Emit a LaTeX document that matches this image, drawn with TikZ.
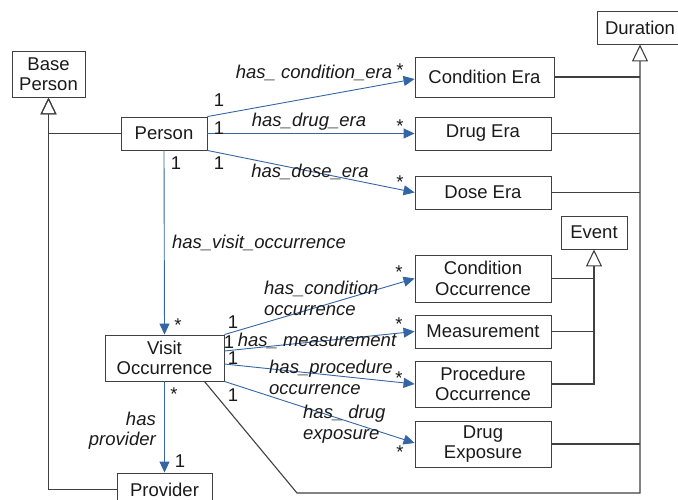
\documentclass[tikz,border=0pt]{standalone}
\usepackage{fontspec}
\setmainfont{Liberation Sans}
\usepackage{tikz}
\usetikzlibrary{arrows.meta}

\definecolor{assocblue}{RGB}{52,101,164}
\definecolor{boxgray}{RGB}{64,64,64}
\definecolor{textgray}{RGB}{26,26,26}
\newcommand{\diagfont}{\fontsize{18.5}{20.5}\selectfont}

\begin{document}
\begin{tikzpicture}[
    x=1pt, y=-1pt,
    every node/.style={font=\diagfont, text=textgray},
    klasse/.style={
      rectangle,
      draw=boxgray,
      line width=0.9pt,
      inner sep=0pt,
      align=center},
    rolle/.style={font=\diagfont\itshape, inner sep=0pt},
    mult/.style={inner sep=0pt},
    assoc/.style={
      draw=assocblue,
      line width=0.9pt,
      -{Triangle[length=11pt,width=10pt]}},
    gen/.style={
      draw=boxgray,
      line width=1.1pt,
      -{Triangle[open,length=17pt,width=16pt]}},
    genline/.style={draw=boxgray, line width=1.1pt}
    ]

  \useasboundingbox (0,0) rectangle (678,500);

  \node at (48.5,74) (base) [klasse, minimum width=73pt, minimum height=46pt] {Base\\Person};
  \node at (164,133.5) (person) [klasse, minimum width=86pt, minimum height=33pt] {Person};
  \node at (640,27.5) (duration) [klasse, minimum width=86pt, minimum height=33pt] {Duration};

  \node at (484.5,77) (condera) [klasse, minimum width=139pt, minimum height=40pt] {Condition Era};
  \node at (483,133.5) (drugera) [klasse, minimum width=136pt, minimum height=33pt] {Drug Era};
  \node at (483,192.5) (doseera) [klasse, minimum width=136pt, minimum height=33pt] {Dose Era};

  \node at (594,232.5) (event) [klasse, minimum width=66pt, minimum height=33pt] {Event};

  \node at (483,278.5) (condocc) [klasse, minimum width=136pt, minimum height=47pt] {Condition\\Occurrence};
  \node at (483,331.5) (measure) [klasse, minimum width=136pt, minimum height=33pt] {Measurement};
  \node at (483,384) (prococc) [klasse, minimum width=136pt, minimum height=46pt] {Procedure\\Occurrence};
  \node at (483,444) (drugexp) [klasse, minimum width=136pt, minimum height=46pt] {Drug\\Exposure};

  \node at (164.5,358) (visit) [klasse, minimum width=119pt, minimum height=46pt] {Visit\\Occurrence};
  \node at (164.5,489.5) (provider) [klasse, minimum width=95pt, minimum height=33pt] {Provider};

  \coordinate (bend) at (297,493);

  \draw [gen] (person.west) -| (base.south);
  \draw [gen] (provider.west) -| (base.south);

  \draw [gen] ([xshift=-20pt]visit.south east) -- (bend) -| (duration.south);
  \draw [genline] (condera.east) -- (condera.east -| duration.south);
  \draw [genline] (drugera.east) -- (drugera.east -| duration.south);
  \draw [genline] (doseera.east) -- (doseera.east -| duration.south);
  \draw [genline] (drugexp.east) -- (drugexp.east -| duration.south);

  \draw [gen] (prococc.east) -| (event.south);
  \draw [genline] (condocc.east) -- (condocc.east -| event.south);
  \draw [genline] (measure.east) -- (measure.east -| event.south);

  \draw [assoc] (person.north east) -- ([yshift=-2pt]condera.west);
  \draw [assoc] (person.east) -- (drugera.west);
  \draw [assoc] (person.south east) -- (doseera.west);
  \draw [assoc] (person.south) -- (visit.north);

  \draw [assoc] (visit.north east) -- (condocc.west);
  \draw [assoc] ([yshift=7pt]visit.east) -- (measure.west);
  \draw [assoc] ([yshift=-6pt]visit.east) -- (prococc.west);
  \draw [assoc] (visit.south east) -- ([yshift=1pt]drugexp.west);
  \draw [assoc] (visit.south) -- (provider.north);

  \node at (314,73) (rcondera) [rolle] {has\_ condition\_era};
  \node at (309,122) (rdrugera) [rolle] {has\_drug\_era};
  \node at (310,172) (rdoseera) [rolle] {has\_dose\_era};
  \node at (259,243) (rvisit) [rolle] {has\_visit\_occurrence};
  \node at (264,298.5) (rcondocc) [rolle, anchor=west, align=left] {has\_condition\\occurrence};
  \node at (317,341) (rmeasure) [rolle] {has\_ measurement};
  \node at (269,377.5) (rprococc) [rolle, anchor=west, align=left] {has\_procedure\\occurrence};
  \node at (303,424) (rdrugexp) [rolle, anchor=west, align=left] {has\_ drug\\exposure};
  \node at (156,430.5) (rprovider) [rolle, anchor=east, align=right] {has\\provider};

  \node at (219,100) (m1a) [mult] {1};
  \node at (400,70) (m1b) [mult] {*};
  \node at (219,128) (m2a) [mult] {1};
  \node at (400,126) (m2b) [mult] {*};
  \node at (219,163) (m3a) [mult] {1};
  \node at (400,182) (m3b) [mult] {*};
  \node at (176,163) (m4a) [mult] {1};
  \node at (178,325) (m4b) [mult] {*};

  \node at (233,322) (m5a) [mult] {1};
  \node at (399,272) (m5b) [mult] {*};
  \node at (229,342) (m6a) [mult] {1};
  \node at (399,324) (m6b) [mult] {*};
  \node at (233,358) (m7a) [mult] {1};
  \node at (399,378) (m7b) [mult] {*};
  \node at (233,395) (m8a) [mult] {1};
  \node at (400,452) (m8b) [mult] {*};
  \node at (174,394) (m9a) [mult] {*};
  \node at (180,461) (m9b) [mult] {1};

\end{tikzpicture}
\end{document}
